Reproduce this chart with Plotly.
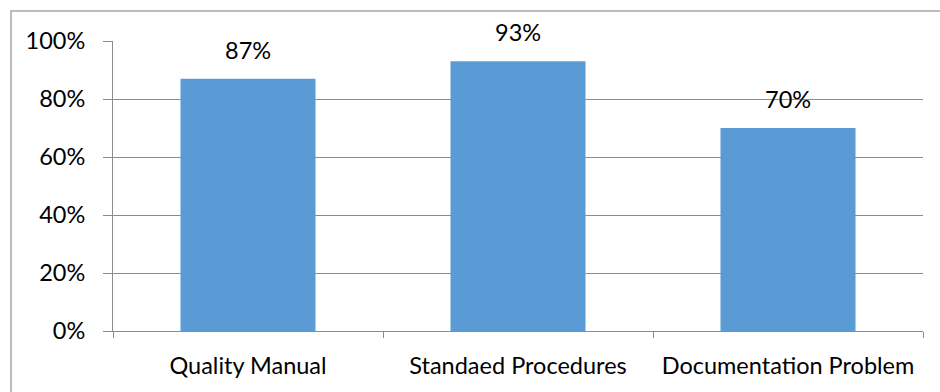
import plotly.graph_objects as go

categories = ["Quality Manual", "Standaed Procedures", "Documentation Problem"]
values = [0.87, 0.93, 0.70]
labels = ["87%", "93%", "70%"]
y_ticks = [0, 0.2, 0.4, 0.6, 0.8, 1.0]
y_tick_labels = ["0%", "20%", "40%", "60%", "80%", "100%"]

FONT = "Lato"
FS = 23.5
GRID = "#8C8C8C"

fig = go.Figure()
fig.add_trace(go.Bar(
    x=categories, y=values, marker=dict(color="#5B9BD5", line=dict(width=0)),
    width=0.5, hoverinfo="skip",
))

for c, v, t in zip(categories, values, labels):
    fig.add_annotation(x=c, y=v, text=t, showarrow=False, yanchor="middle",
                       yshift=29, font=dict(family=FONT, size=FS, color="#000000"))

L, R, T, B = 113, 17, 41, 61
W, H = 940, 392
pw, ph = W - L - R, H - T - B
fig.add_shape(type="rect", xref="paper", yref="paper",
              x0=(11 - L) / pw, x1=(W + 20 - L) / pw,
              y0=-(B + 20) / ph, y1=(H - B - 11) / ph,
              line=dict(color="#A6A6A6", width=1.5), fillcolor="rgba(0,0,0,0)", layer="below")

fig.update_layout(
    width=W, height=H,
    margin=dict(l=L, r=R, t=T, b=B, pad=0),
    paper_bgcolor="white", plot_bgcolor="white",
    showlegend=False,
    font=dict(family=FONT, size=FS, color="#000000"),
    bargap=0.5,
)
fig.update_xaxes(
    type="category", showgrid=False, showline=True, linecolor=GRID, linewidth=1,
    ticks="outside", tickson="boundaries", ticklen=6, tickcolor=GRID, tickwidth=1,
    tickfont=dict(family=FONT, size=FS, color="#000000"), zeroline=False,
    ticklabelstandoff=14,
)
fig.update_yaxes(
    range=[0, 1], tickvals=y_ticks, ticktext=y_tick_labels, showgrid=True,
    gridcolor=GRID, gridwidth=1, showline=True, linecolor=GRID, linewidth=1,
    ticks="outside", ticklen=9, tickcolor=GRID, tickwidth=1, zeroline=False,
    tickfont=dict(family=FONT, size=FS, color="#000000"),
    ticklabelstandoff=13,
)

fig.write_html("out.html")
